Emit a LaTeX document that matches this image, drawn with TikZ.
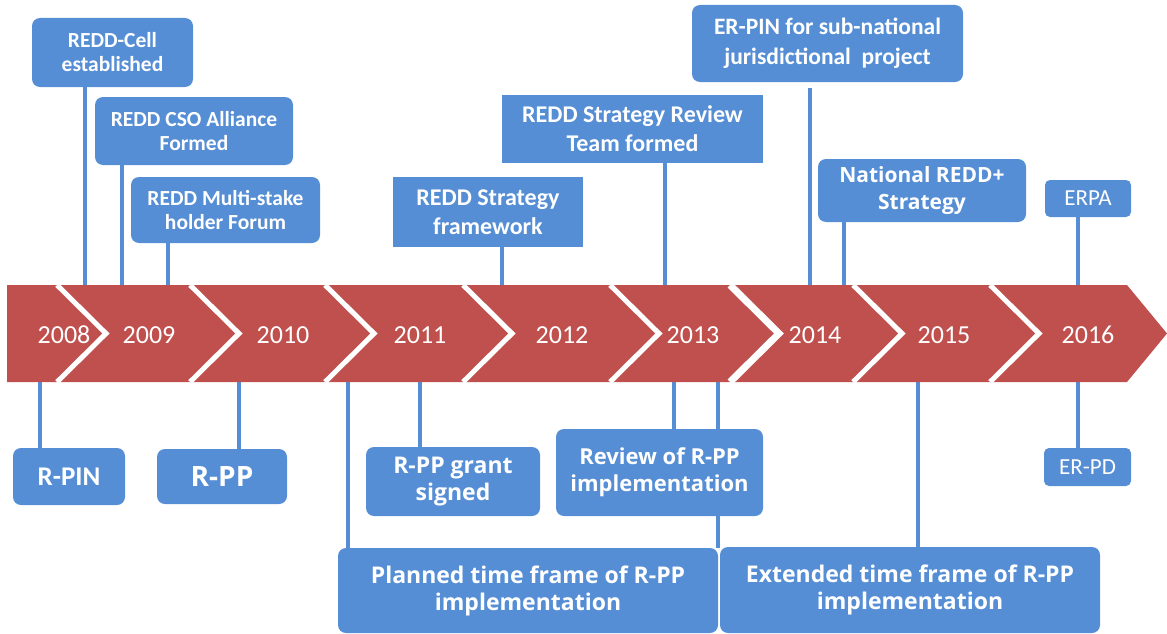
\documentclass[tikz,border=0pt]{standalone}
\usepackage{fontspec}
\setmainfont{Carlito}
\newfontfamily\widefont{Open Sans}
\usetikzlibrary{backgrounds}
\definecolor{bandred}{RGB}{192,80,77}
\definecolor{boxblue}{RGB}{85,142,213}
\begin{document}
\begin{tikzpicture}[x=1pt,y=-1pt,
    evbox/.style={fill=boxblue,text=white,align=center,inner sep=0pt,outer sep=0pt,rounded corners=8pt,font=\bfseries\fontsize{21.5}{24}\selectfont},
    sqbox/.style={evbox,sharp corners,font=\bfseries\fontsize{24}{29}\selectfont},
    widebox/.style={evbox,font=\widefont\bfseries\fontsize{23}{27}\selectfont},
    plainbox/.style={evbox,rounded corners=5pt,font=\fontsize{23}{27}\selectfont},
    bigbox/.style={evbox,font=\bfseries\fontsize{27}{30}\selectfont},
    yearlbl/.style={text=white,font=\fontsize{26}{30}\selectfont},
    sepline/.style={draw=white,line width=5pt,line join=miter},
    conn/.style={draw=boxblue,line width=3.5pt}]
\useasboundingbox (0,0) rectangle (1167,634);
% timeline band
\fill[bandred] (7,285) -- (1127,285) -- (1167,333.5) -- (1127,382) -- (7,382) -- cycle;
\foreach \s in {57,190,325,463,610,853,990}
    \draw[sepline] (\s,285) -- (\s+49,333.5) -- (\s,382);
\draw[sepline,line width=7pt] (730,285) -- (779,333.5) -- (730,382);
\foreach \x/\yr in {64/2008,149/2009,283/2010,420/2011,562/2012,693/2013,815/2014,944/2015,1088/2016}
    \node[yearlbl] (y\yr) at (\x,335) {\yr};
% events above
\node[evbox,minimum width=161pt,minimum height=69pt] (cell) at (112.5,52.5) {REDD-Cell\\established};
\node[evbox,minimum width=198pt,minimum height=68pt] (cso) at (194,131) {REDD CSO Alliance\\Formed};
\node[evbox,minimum width=189pt,minimum height=66pt] (forum) at (225.5,210) {REDD Multi-stake\\holder Forum};
\node[sqbox,minimum width=190pt,minimum height=70pt] (frame) at (488,212) {REDD Strategy\\framework};
\node[sqbox,minimum width=261pt,minimum height=68pt] (team) at (632.5,129) {REDD Strategy Review\\Team formed};
\node[sqbox,rounded corners=8pt,font=\bfseries\fontsize{23.5}{30}\selectfont,minimum width=271pt,minimum height=77pt] (erpin) at (827.5,43.5) {ER-PIN for sub-national\\jurisdictional\ \ project};
\node[widebox,font=\widefont\bfseries\fontsize{21}{27}\selectfont,minimum width=208pt,minimum height=63pt] (natl) at (922,190.5) {National REDD+\\Strategy};
\node[plainbox,minimum width=86pt,minimum height=37pt] (erpa) at (1088,198.5) {ERPA};
% events below
\node[bigbox,minimum width=112pt,minimum height=57pt] (rpin) at (69,476.5) {R-PIN};
\node[bigbox,font=\widefont\bfseries\fontsize{28}{30}\selectfont,minimum width=130pt,minimum height=55pt] (rpp) at (222,476.5) {R-PP};
\node[widebox,minimum width=174pt,minimum height=69pt] (grant) at (453,481.5) {R-PP grant\\signed};
\node[widebox,font=\widefont\bfseries\fontsize{22}{27}\selectfont,minimum width=207pt,minimum height=87pt] (review) at (659.5,472.5) {Review of R-PP\\implementation};
\node[widebox,minimum width=380pt,minimum height=85pt] (planned) at (528,590.5) {Planned time frame of R-PP\\implementation};
\node[widebox,minimum width=380pt,minimum height=86pt] (extended) at (910,590) {Extended time frame of R-PP\\implementation};
\node[plainbox,minimum width=87pt,minimum height=38pt] (erpd) at (1087.5,467) {ER-PD};
% connectors
\begin{scope}[on background layer]
\foreach \n/\x in {cell/85,cso/122,forum/168,frame/502,team/665,natl/844,erpa/1078} {
    \path (\x,285) coordinate (p);
    \draw[conn] (\n.south -| p) -- (p);
}
\path (810,285) coordinate (p);
\draw[conn,shorten <=6pt] (erpin.south -| p) -- (p);
\foreach \n/\x in {rpin/40,rpp/239,grant/420,review/674,planned/348,planned/718,extended/918,erpd/1078} {
    \path (\x,382) coordinate (p);
    \draw[conn] (p) -- (\n.north -| p);
}
\end{scope}
\end{tikzpicture}
\end{document}
